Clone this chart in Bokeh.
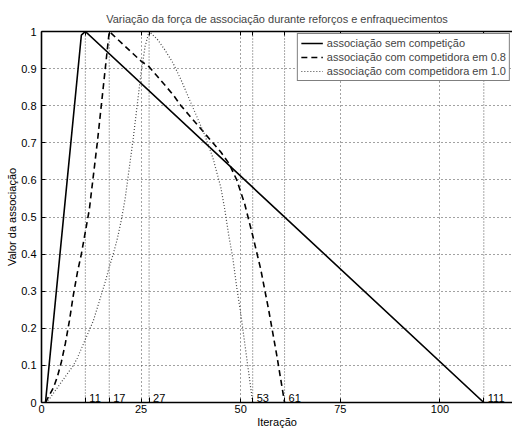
from bokeh.plotting import figure
from bokeh.models import FixedTicker, LinearAxis, Range1d, Legend, LegendItem
from bokeh.core.properties import value
from bokeh.embed import file_html
from bokeh.resources import INLINE

# ---- data ----
x_solid = [1, 10, 11, 111]
y_solid = [0.0, 0.99, 1.0, 0.0]

x_dash = [1, 2, 3, 4, 5, 6, 7, 8, 9, 10, 11, 12, 13, 14, 15, 16, 17,
          19, 21, 23, 25, 27, 29, 31, 33, 35, 37, 39, 41, 43, 45, 47, 49, 51, 53, 55, 57, 59, 61]
y_dash = [0.0, 0.02, 0.04, 0.07, 0.11, 0.16, 0.22, 0.29, 0.35, 0.40, 0.46, 0.52, 0.61, 0.70, 0.80, 0.90, 1.0,
          0.98, 0.96, 0.94, 0.92, 0.905, 0.88, 0.855, 0.83, 0.80, 0.775, 0.75, 0.725, 0.70, 0.675, 0.645,
          0.60, 0.535, 0.45, 0.36, 0.25, 0.13, 0.0]

x_dot = [1, 2, 3, 4, 5, 6, 7, 8, 9, 10, 11, 12, 13, 14, 15, 16, 17, 18, 19, 20, 21, 22, 23, 24, 25, 26, 27,
         29, 31, 33, 35, 37, 39, 41, 43, 45, 46, 47, 48, 49, 50, 51, 52, 53]
y_dot = [0.0, 0.01, 0.025, 0.04, 0.055, 0.07, 0.085, 0.10, 0.12, 0.145, 0.17, 0.195, 0.22, 0.255, 0.29,
         0.325, 0.365, 0.40, 0.44, 0.49, 0.55, 0.63, 0.71, 0.80, 0.89, 0.96, 1.0,
         0.98, 0.95, 0.915, 0.87, 0.82, 0.77, 0.72, 0.66, 0.58, 0.52, 0.45, 0.39, 0.31, 0.24, 0.16, 0.08, 0.0]

event_x = [11, 17, 27, 53, 61, 111]
event_labels = ["11", "17", "27", "53", "61", "111"]
event_y0 = [0, 0, 0, 0, 0, 0]
event_y1 = [1, 1, 1, 1, 1, 1]

x_ticks = [0, 25, 50, 75, 100]
y_ticks = [0, 0.1, 0.2, 0.3, 0.4, 0.5, 0.6, 0.7, 0.8, 0.9, 1]
y_tick_labels = ["0", "0.1", "0.2", "0.3", "0.4", "0.5", "0.6", "0.7", "0.8", "0.9", "1"]

series_labels = ["associação sem competição",
                 "associação com competidora em 0.8",
                 "associação com competidora em 1.0"]

FONT = "Liberation Sans"
FS = "11px"

p = figure(width=512, height=430,
           x_range=Range1d(0, 118.2), y_range=Range1d(0, 1),
           output_backend="svg", toolbar_location=None,
           title="Variação da força de associação durante reforços e enfraquecimentos",
           x_axis_label="Iteração", y_axis_label="Valor da associação",
           min_border_left=41, min_border_right=0, min_border_top=31, min_border_bottom=10)

p.outline_line_color = None
p.background_fill_color = "white"
p.border_fill_color = "white"

# title
p.title.text_font = FONT
p.title.text_font_size = FS
p.title.text_font_style = "normal"
p.title.align = "center"
p.title.standoff = 13
p.title.offset = 0

# grid
for g, t in ((p.xgrid, x_ticks), (p.ygrid, y_ticks)):
    g.ticker = FixedTicker(ticks=t)
    g.grid_line_color = "#444444"
    g.grid_line_dash = "1 3"
    g.grid_line_width = 1

# event lines
p.segment(x0=event_x, y0=event_y0, x1=event_x, y1=event_y1,
          line_color="#555555", line_dash="1 2", line_width=1)
p.text(x=event_x, y=event_y0, text=event_labels, x_offset=4, y_offset=-1,
       text_baseline="bottom", text_align="left",
       text_font=value(FONT), text_font_size=FS, text_color="black")

# curves
r1 = p.line(x_solid, y_solid, line_color="black", line_width=1.6)
r2 = p.line(x_dash, y_dash, line_color="black", line_width=1.6, line_dash="6 4")
r3 = p.line(x_dot, y_dot, line_color="#444444", line_width=1.2, line_dash="1 2")

# axes
xa = p.xaxis[0]
xa.ticker = FixedTicker(ticks=x_ticks, minor_ticks=event_x)
ya = p.yaxis[0]
ya.ticker = FixedTicker(ticks=y_ticks)
ya.major_label_overrides = {t: l for t, l in zip(y_ticks, y_tick_labels)}
for ax in (xa, ya):
    ax.axis_line_width = 1.6
    ax.axis_line_color = "black"
    ax.major_tick_in = 4
    ax.major_tick_out = 0
    ax.minor_tick_in = 5
    ax.minor_tick_out = 0
    ax.major_tick_line_color = "black"
    ax.minor_tick_line_color = "black"
    ax.major_label_text_font = FONT
    ax.major_label_text_font_size = FS
    ax.major_label_text_color = "black"
    ax.axis_label_text_font = FONT
    ax.axis_label_text_font_size = FS
    ax.axis_label_text_font_style = "normal"
    ax.axis_label_text_color = "black"
    ax.major_label_standoff = 2
    ax.axis_label_standoff = 0
ya.minor_tick_line_color = None
ya.major_label_standoff = 5

top = LinearAxis(ticker=FixedTicker(ticks=x_ticks, minor_ticks=event_x),
                 major_label_text_font_size="1px", major_label_text_color=None,
                 major_tick_in=4, major_tick_out=0,
                 minor_tick_in=4, minor_tick_out=0, axis_line_width=1.6,
                 major_label_standoff=0)
p.add_layout(top, "above")

legend = Legend(items=[LegendItem(label=series_labels[0], renderers=[r1]),
                       LegendItem(label=series_labels[1], renderers=[r2]),
                       LegendItem(label=series_labels[2], renderers=[r3])],
                location="top_right")
legend.label_text_font = FONT
legend.label_text_font_size = FS
legend.label_height = 12
legend.glyph_height = 12
legend.glyph_width = 22
legend.spacing = 2
legend.padding = 3
legend.margin = 2
legend.label_standoff = 4
legend.border_line_color = "black"
legend.border_line_width = 1
legend.background_fill_alpha = 1
p.add_layout(legend)

open("out.html", "w").write(file_html(p, INLINE))
